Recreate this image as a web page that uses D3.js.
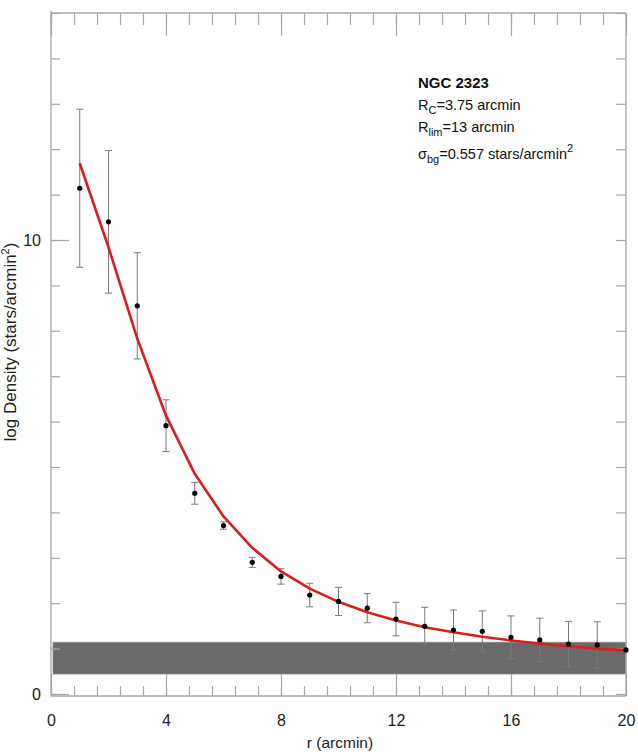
<!DOCTYPE html>
<html>
<head>
<meta charset="utf-8">
<script src="https://cdn.jsdelivr.net/npm/d3@7"></script>
<style>
  html, body { margin: 0; padding: 0; background: #fff; }
  svg { display: block; font-family: "Liberation Sans", Arial, sans-serif; }
</style>
</head>
<body>
<svg id="chart" width="638" height="756"></svg>
<script>
// Radial density profile of NGC 2323
const radius   = [1, 2, 3, 4, 5, 6, 7, 8, 9, 10, 11, 12, 13, 14, 15, 16, 17, 18, 19, 20];
const density  = [11.14, 10.40, 8.55, 5.91, 4.42, 3.71, 2.90, 2.59, 2.18, 2.04,
                  1.89, 1.65, 1.49, 1.41, 1.38, 1.25, 1.19, 1.10, 1.08, 0.97];
const densErr  = [1.74, 1.57, 1.17, 0.57, 0.24, 0.08, 0.11, 0.17, 0.26, 0.31,
                  0.32, 0.37, 0.42, 0.44, 0.45, 0.47, 0.48, 0.50, 0.51, 0];
// King-profile fit evaluated at each radius
const kingFit  = [11.69, 9.84, 7.83, 6.13, 4.85, 3.91, 3.22, 2.70, 2.32, 2.03,
                  1.80, 1.62, 1.47, 1.36, 1.26, 1.18, 1.11, 1.05, 1.00, 0.96];
// Background density band (lower, upper)
const bgBand   = [0.44, 1.14];
const xMajorTicks = [0, 4, 8, 12, 16, 20];
const xMinorTicks = d3.range(0, 20.01, 0.8);
const yMajorTicks = [0, 10];
const yMinorTicks = d3.range(0, 15.01, 1);

const svg = d3.select("#chart");
const plotLeft = 51, plotRight = 626, plotTop = 13, plotBottom = 696;
const x = d3.scaleLinear().domain([0, 20]).range([plotLeft, plotRight]);
const y = d3.scaleLinear().domain([0, 15]).range([694, plotTop]);

const axisColor = "#a8a8a8";

// background band
svg.append("rect")
  .attr("x", x(0) + 2).attr("width", x(20) - x(0) - 2)
  .attr("y", y(bgBand[1])).attr("height", y(bgBand[0]) - y(bgBand[1]))
  .attr("fill", "#6a6a6a").attr("stroke", "#8a8a8a").attr("stroke-width", 0.8);

function styleAxis(g) {
  g.select(".domain").remove();
  g.selectAll("line").attr("stroke", axisColor).attr("stroke-width", 1.2);
  g.selectAll("text").attr("fill", "#222").style("font-size", "16px")
    .style("font-family", "'Liberation Sans', Arial, sans-serif");
}

// bottom axis
svg.append("g").attr("transform", `translate(0,${plotBottom})`)
  .call(d3.axisBottom(x).tickValues(xMinorTicks).tickSize(-10).tickFormat(""))
  .call(styleAxis);
svg.append("g").attr("transform", `translate(0,${plotBottom})`)
  .call(d3.axisBottom(x).tickValues(xMajorTicks).tickSize(-22).tickPadding(19).tickFormat(d3.format("d")))
  .call(styleAxis);
// top axis
svg.append("g").attr("transform", `translate(0,${plotTop})`)
  .call(d3.axisTop(x).tickValues(xMinorTicks).tickSize(-12).tickFormat(""))
  .call(styleAxis);
svg.append("g").attr("transform", `translate(0,${plotTop})`)
  .call(d3.axisTop(x).tickValues(xMajorTicks).tickSize(-23).tickFormat(""))
  .call(styleAxis);
// left axis
svg.append("g").attr("transform", `translate(${plotLeft},0)`)
  .call(d3.axisLeft(y).tickValues(yMinorTicks).tickSize(-9).tickFormat(""))
  .call(styleAxis);
svg.append("g").attr("transform", `translate(${plotLeft},0)`)
  .call(d3.axisLeft(y).tickValues(yMajorTicks).tickSize(-18).tickPadding(10).tickFormat(d3.format("d")))
  .call(styleAxis);
// right axis
svg.append("g").attr("transform", `translate(${plotRight},0)`)
  .call(d3.axisRight(y).tickValues(yMinorTicks).tickSize(-10).tickFormat(""))
  .call(styleAxis);

// frame lines
const frame = svg.append("g").attr("stroke", axisColor).attr("stroke-width", 1.3).attr("fill", "none");
frame.append("line").attr("x1", plotLeft).attr("x2", plotLeft).attr("y1", plotTop - 2).attr("y2", plotBottom);
frame.append("line").attr("x1", plotLeft).attr("x2", plotRight).attr("y1", plotTop).attr("y2", plotTop);
frame.append("line").attr("x1", plotRight).attr("x2", plotRight).attr("y1", plotTop).attr("y2", plotBottom);
frame.append("line").attr("x1", plotLeft).attr("x2", plotRight).attr("y1", plotBottom).attr("y2", plotBottom);

// error bars
const eb = svg.append("g").attr("stroke", "#7a7a7a").attr("stroke-width", 1);
radius.forEach((r, i) => {
  if (densErr[i] <= 0) return;
  const cx = x(r), y1 = y(density[i] + densErr[i]), y2 = y(density[i] - densErr[i]);
  eb.append("line").attr("x1", cx).attr("x2", cx).attr("y1", y1).attr("y2", y2);
  eb.append("line").attr("x1", cx - 3.5).attr("x2", cx + 3.5).attr("y1", y1).attr("y2", y1);
  eb.append("line").attr("x1", cx - 3.5).attr("x2", cx + 3.5).attr("y1", y2).attr("y2", y2);
});

// fitted profile
svg.append("path")
  .datum(radius.map((r, i) => [r, kingFit[i]]))
  .attr("fill", "none").attr("stroke", "#d81e1e").attr("stroke-width", 2.6)
  .attr("stroke-linejoin", "round")
  .attr("d", d3.line().x(d => x(d[0])).y(d => y(d[1])));

// observed points
svg.append("g").selectAll("circle")
  .data(radius.map((r, i) => [r, density[i]]))
  .join("circle")
  .attr("cx", d => x(d[0])).attr("cy", d => y(d[1])).attr("r", 2.6)
  .attr("fill", "#000");

// axis titles
svg.append("text").attr("x", 340).attr("y", 748).attr("text-anchor", "middle")
  .attr("fill", "#222").style("font-size", "15.5px").text("r (arcmin)");
const yt = svg.append("text").attr("transform", "translate(16,342) rotate(-90)")
  .attr("text-anchor", "middle").attr("fill", "#222").style("font-size", "17px");
yt.append("tspan").text("log Density (stars/arcmin");
yt.append("tspan").attr("dy", -7).style("font-size", "11px").text("2");
yt.append("tspan").attr("dy", 7).text(")");

// annotation
const ann = svg.append("g").attr("fill", "#111");
ann.append("text").attr("x", 418).attr("y", 88).style("font-size", "15px").style("font-weight", "bold").text("NGC 2323");
const l1 = ann.append("text").attr("x", 418).attr("y", 110).style("font-size", "14.5px");
l1.append("tspan").text("R");
l1.append("tspan").attr("dy", 4).style("font-size", "11px").text("C");
l1.append("tspan").attr("dy", -4).text("=3.75 arcmin");
const l2 = ann.append("text").attr("x", 418).attr("y", 132).style("font-size", "14.5px");
l2.append("tspan").text("R");
l2.append("tspan").attr("dy", 4).style("font-size", "11px").text("lim");
l2.append("tspan").attr("dy", -4).text("=13 arcmin");
const l3 = ann.append("text").attr("x", 418).attr("y", 159).style("font-size", "14.5px");
l3.append("tspan").text("σ");
l3.append("tspan").attr("dy", 4).style("font-size", "11px").text("bg");
l3.append("tspan").attr("dy", -4).text("=0.557 stars/arcmin");
l3.append("tspan").attr("dy", -7).style("font-size", "11px").text("2");
</script>
</body>
</html>
